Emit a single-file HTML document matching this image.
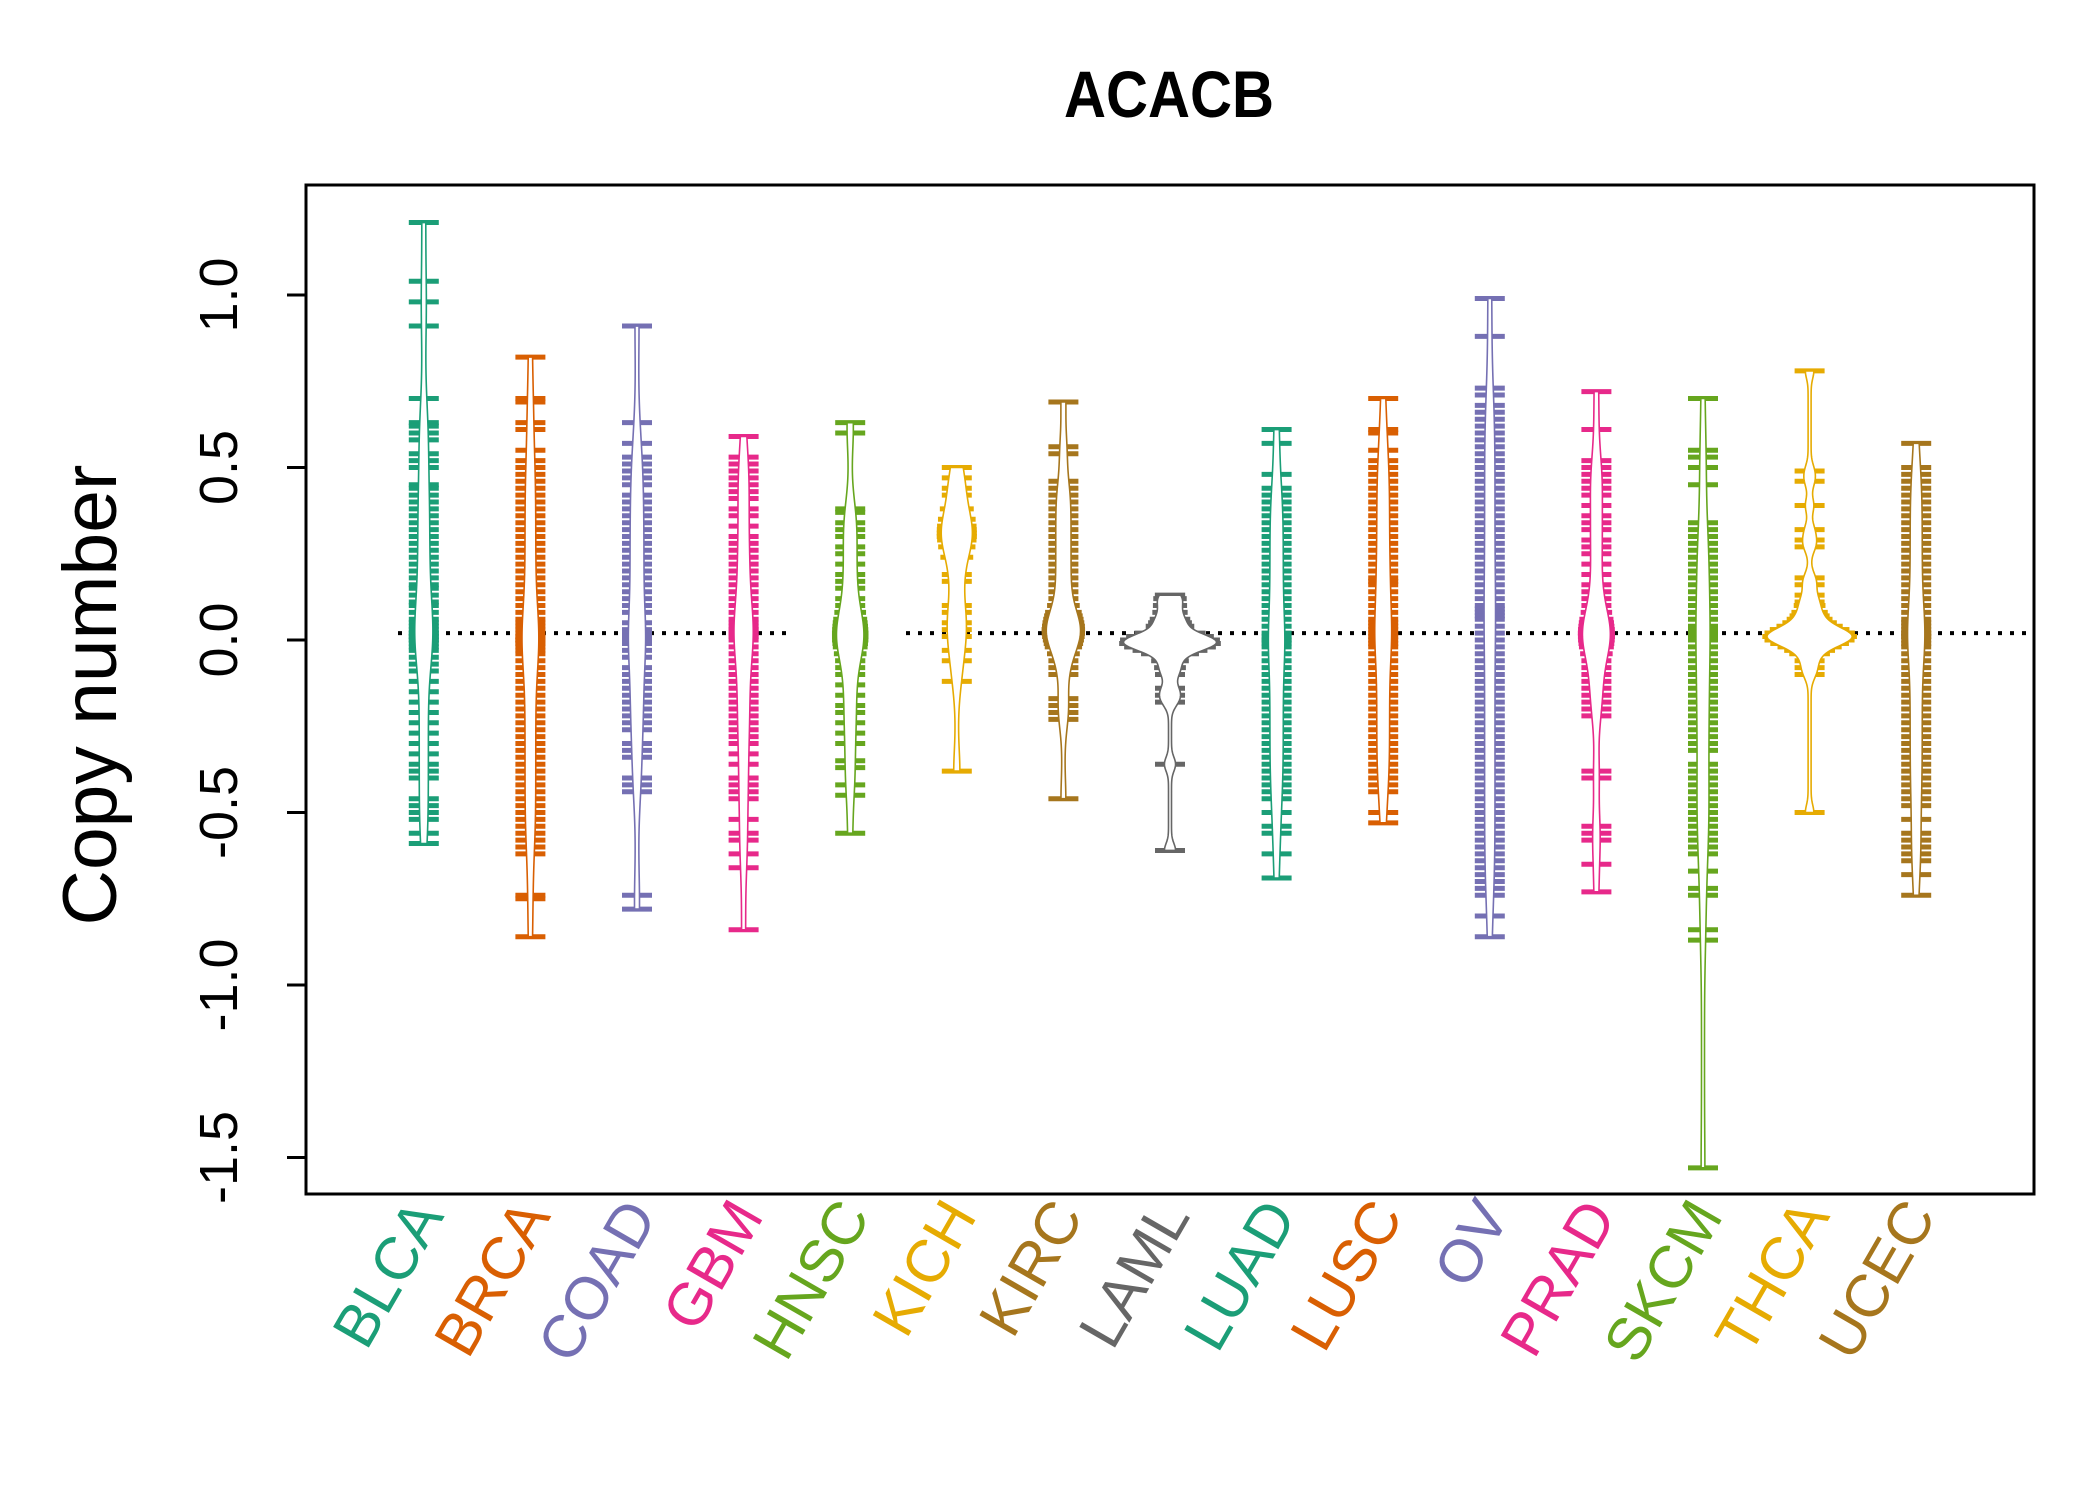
<!DOCTYPE html>
<html><head><meta charset="utf-8"><style>
html,body{margin:0;padding:0;background:#fff;}
svg{display:block;}
text{font-family:"Liberation Sans",Arial,sans-serif;}
</style></head><body>
<svg id="chart" width="2100" height="1500" viewBox="0 0 2100 1500" xmlns="http://www.w3.org/2000/svg">
<rect x="0" y="0" width="2100" height="1500" fill="#fff"/>
<text x="1169" y="117" font-size="66" font-weight="bold" text-anchor="middle" textLength="210" lengthAdjust="spacingAndGlyphs">ACACB</text>
<text transform="translate(116,695) rotate(-90)" font-size="76" text-anchor="middle" textLength="461" lengthAdjust="spacingAndGlyphs">Copy number</text>
<g id="plot"></g>
<g id="axes"></g>
</svg>
<script>
const categories = ["BLCA","BRCA","COAD","GBM","HNSC","KICH","KIRC","LAML","LUAD","LUSC","OV","PRAD","SKCM","THCA","UCEC"];
const colors = ["#1B9E77","#D95F02","#7570B3","#E7298A","#66A61E","#E6AB02","#A6761D","#666666","#1B9E77","#D95F02","#7570B3","#E7298A","#66A61E","#E6AB02","#A6761D"];
const yTicks = [1.0,0.5,0.0,-0.5,-1.0,-1.5];
const yTickLabels = ["1.0","0.5","0.0","-0.5","-1.0","-1.5"];
const refLineValue = 0.02;
const valsBLCA = [1.21,1.04,0.98,0.91,0.70,0.63,0.62,0.60,0.58,0.54,0.52,0.50,0.45,0.44,0.42,0.40,0.38,0.36,0.34,0.32,0.30,0.28,0.26,0.24,0.22,0.20,0.18,0.16,0.15,0.13,0.11,0.10,0.08,0.06,0.05,0.04,0.03,0.02,0.02,0.01,0.01,0.0,0.0,-0.01,-0.02,-0.03,-0.05,-0.07,-0.09,-0.12,-0.15,-0.18,-0.21,-0.24,-0.27,-0.30,-0.33,-0.36,-0.38,-0.40,-0.46,-0.48,-0.50,-0.52,-0.56,-0.59];
const valsBRCA = [0.82,0.70,0.69,0.63,0.61,0.55,0.52,0.50,0.48,0.46,0.44,0.42,0.40,0.38,0.36,0.34,0.32,0.30,0.28,0.26,0.24,0.22,0.20,0.18,0.16,0.14,0.12,0.10,0.08,0.06,0.05,0.04,0.03,0.02,0.01,0.01,0.0,0.0,0.0,-0.01,-0.01,-0.02,-0.03,-0.04,-0.06,-0.08,-0.10,-0.12,-0.14,-0.16,-0.18,-0.20,-0.22,-0.24,-0.26,-0.28,-0.30,-0.32,-0.34,-0.36,-0.38,-0.40,-0.42,-0.44,-0.46,-0.48,-0.50,-0.52,-0.54,-0.56,-0.58,-0.60,-0.62,-0.74,-0.75,-0.86];
const valsCOAD = [0.91,0.63,0.57,0.53,0.51,0.49,0.47,0.45,0.42,0.40,0.38,0.36,0.34,0.32,0.30,0.28,0.26,0.24,0.22,0.20,0.18,0.16,0.14,0.12,0.10,0.08,0.05,0.03,0.02,0.01,0.01,0.0,0.0,-0.01,-0.03,-0.05,-0.08,-0.10,-0.12,-0.14,-0.16,-0.18,-0.20,-0.22,-0.24,-0.26,-0.30,-0.32,-0.34,-0.40,-0.42,-0.44,-0.74,-0.78];
const valsGBM = [0.59,0.53,0.51,0.49,0.47,0.45,0.43,0.41,0.38,0.36,0.33,0.30,0.28,0.26,0.24,0.22,0.20,0.18,0.16,0.14,0.12,0.10,0.08,0.06,0.05,0.04,0.03,0.03,0.02,0.02,0.02,0.01,0.01,0.0,-0.02,-0.04,-0.06,-0.08,-0.10,-0.12,-0.14,-0.16,-0.18,-0.20,-0.22,-0.24,-0.26,-0.28,-0.30,-0.33,-0.36,-0.40,-0.42,-0.44,-0.46,-0.52,-0.56,-0.58,-0.62,-0.66,-0.84];
const valsHNSC = [0.63,0.60,0.38,0.37,0.34,0.32,0.30,0.27,0.25,0.22,0.19,0.17,0.15,0.12,0.10,0.08,0.06,0.05,0.04,0.03,0.02,0.02,0.01,0.01,0.0,0.0,-0.01,-0.02,-0.04,-0.06,-0.08,-0.10,-0.13,-0.16,-0.19,-0.21,-0.24,-0.27,-0.30,-0.35,-0.37,-0.42,-0.45,-0.56];
const valsKICH = [0.50,0.47,0.44,0.42,0.38,0.35,0.33,0.32,0.31,0.30,0.30,0.29,0.27,0.24,0.19,0.17,0.10,0.08,0.05,0.03,0.01,-0.03,-0.06,-0.12,-0.38];
const valsKIRC = [0.69,0.56,0.54,0.46,0.44,0.42,0.40,0.38,0.36,0.34,0.32,0.30,0.28,0.26,0.24,0.22,0.20,0.18,0.16,0.14,0.12,0.10,0.08,0.07,0.06,0.05,0.04,0.04,0.03,0.03,0.03,0.02,0.02,0.02,0.01,0.01,0.0,-0.01,-0.02,-0.04,-0.06,-0.08,-0.10,-0.17,-0.19,-0.21,-0.23,-0.46];
const valsLAML = [0.13,0.12,0.10,0.08,0.06,0.05,0.04,0.02,0.01,0.01,0.0,0.0,0.0,-0.01,-0.01,-0.01,-0.01,-0.02,-0.02,-0.03,-0.04,-0.06,-0.08,-0.10,-0.14,-0.16,-0.18,-0.36,-0.61];
const valsLUAD = [0.61,0.57,0.48,0.44,0.42,0.40,0.38,0.36,0.34,0.32,0.30,0.28,0.26,0.24,0.22,0.20,0.18,0.16,0.14,0.12,0.10,0.08,0.06,0.04,0.02,0.01,0.0,0.0,-0.01,-0.02,-0.04,-0.06,-0.08,-0.10,-0.12,-0.14,-0.16,-0.18,-0.20,-0.22,-0.24,-0.26,-0.28,-0.30,-0.32,-0.34,-0.36,-0.38,-0.40,-0.42,-0.44,-0.46,-0.50,-0.54,-0.56,-0.62,-0.69];
const valsLUSC = [0.70,0.61,0.60,0.55,0.52,0.50,0.48,0.46,0.44,0.42,0.40,0.38,0.36,0.34,0.32,0.30,0.28,0.26,0.24,0.22,0.20,0.18,0.17,0.16,0.14,0.12,0.10,0.08,0.06,0.05,0.04,0.03,0.02,0.01,0.0,-0.01,-0.02,-0.04,-0.06,-0.08,-0.10,-0.12,-0.14,-0.16,-0.18,-0.20,-0.22,-0.24,-0.26,-0.28,-0.30,-0.32,-0.34,-0.36,-0.38,-0.40,-0.42,-0.44,-0.50,-0.53];
const valsOV = [0.99,0.88,0.73,0.71,0.68,0.66,0.64,0.62,0.60,0.58,0.56,0.54,0.52,0.50,0.48,0.46,0.44,0.42,0.40,0.38,0.36,0.34,0.32,0.30,0.28,0.26,0.24,0.22,0.20,0.18,0.16,0.14,0.12,0.10,0.09,0.08,0.07,0.06,0.04,0.02,0.0,-0.02,-0.04,-0.06,-0.08,-0.10,-0.12,-0.14,-0.16,-0.18,-0.20,-0.22,-0.24,-0.26,-0.28,-0.30,-0.32,-0.34,-0.36,-0.38,-0.40,-0.42,-0.44,-0.46,-0.48,-0.50,-0.52,-0.54,-0.56,-0.58,-0.60,-0.62,-0.64,-0.66,-0.68,-0.70,-0.72,-0.74,-0.80,-0.86];
const valsPRAD = [0.72,0.61,0.52,0.50,0.48,0.46,0.44,0.42,0.39,0.36,0.34,0.32,0.29,0.27,0.25,0.22,0.19,0.16,0.14,0.12,0.10,0.08,0.06,0.05,0.04,0.03,0.03,0.02,0.02,0.02,0.02,0.01,0.01,0.01,0.0,0.0,-0.01,-0.02,-0.04,-0.06,-0.08,-0.10,-0.12,-0.14,-0.16,-0.18,-0.20,-0.22,-0.38,-0.40,-0.54,-0.56,-0.58,-0.65,-0.73];
const valsSKCM = [0.70,0.55,0.53,0.50,0.45,0.34,0.32,0.30,0.28,0.26,0.24,0.22,0.20,0.18,0.16,0.14,0.12,0.10,0.08,0.06,0.04,0.03,0.02,0.01,0.0,-0.02,-0.04,-0.06,-0.08,-0.10,-0.12,-0.14,-0.16,-0.18,-0.20,-0.22,-0.24,-0.26,-0.28,-0.30,-0.32,-0.36,-0.38,-0.40,-0.42,-0.44,-0.46,-0.48,-0.50,-0.52,-0.54,-0.56,-0.58,-0.60,-0.62,-0.67,-0.72,-0.74,-0.84,-0.87,-1.53];
const valsTHCA = [0.78,0.49,0.46,0.39,0.32,0.29,0.27,0.18,0.16,0.13,0.11,0.10,0.08,0.07,0.06,0.05,0.04,0.03,0.03,0.02,0.02,0.02,0.02,0.01,0.01,0.01,0.01,0.0,0.0,0.0,0.0,-0.01,-0.01,-0.02,-0.03,-0.04,-0.06,-0.08,-0.10,-0.50];
const valsUCEC = [0.57,0.50,0.48,0.46,0.44,0.42,0.40,0.38,0.36,0.34,0.32,0.30,0.28,0.26,0.24,0.22,0.20,0.18,0.16,0.14,0.12,0.10,0.08,0.06,0.05,0.04,0.03,0.02,0.02,0.01,0.01,0.0,-0.01,-0.02,-0.04,-0.06,-0.08,-0.10,-0.12,-0.14,-0.16,-0.18,-0.20,-0.22,-0.24,-0.26,-0.28,-0.30,-0.32,-0.34,-0.36,-0.38,-0.40,-0.42,-0.44,-0.46,-0.48,-0.52,-0.56,-0.58,-0.60,-0.62,-0.64,-0.68,-0.74];
const seriesValues = [valsBLCA,valsBRCA,valsCOAD,valsGBM,valsHNSC,valsKICH,valsKIRC,valsLAML,valsLUAD,valsLUSC,valsOV,valsPRAD,valsSKCM,valsTHCA,valsUCEC];

const NS = "http://www.w3.org/2000/svg";
const box = {left:306, right:2034, top:185, bottom:1194};
function yScale(v){ return 640 - 345*v; }
function xScale(i){ return 423.8 + 106.6*i; }
const plot = document.getElementById('plot');
const axes = document.getElementById('axes');
function mk(tag, attrs, parent){ const e=document.createElementNS(NS,tag); for(const k in attrs) e.setAttribute(k,attrs[k]); parent.appendChild(e); return e; }

function kde(vals, bw, y){ let s=0; for(const v of vals){ const z=(y-v)/bw; s+=Math.exp(-0.5*z*z);} return s/(vals.length*bw*Math.sqrt(2*Math.PI)); }
function bandwidth(vals){ const n=vals.length; const m=vals.reduce((a,b)=>a+b,0)/n; const sd=Math.sqrt(vals.reduce((a,b)=>a+(b-m)*(b-m),0)/(n-1)); const s=[...vals].sort((a,b)=>a-b); const iqr=s[Math.floor(0.75*(n-1))]-s[Math.floor(0.25*(n-1))]; const sp=Math.min(sd, iqr/1.34 || sd); return Math.max(0.55*sp*Math.pow(n,-0.2),0.02); }

const dens = seriesValues.map(vals=>{ const bw=bandwidth(vals); const mn=Math.min(...vals), mx=Math.max(...vals); const pts=[]; for(let k=0;k<=300;k++){ const y=mn+(mx-mn)*k/300; pts.push([y,kde(vals,bw,y)]);} return {bw,pts,mn,mx}; });
let maxD = 0; dens.forEach(d=>d.pts.forEach(p=>{ if(p[1]>maxD) maxD=p[1]; }));
const beanScale = 45/maxD;

const refA = mk('line',{x1:398,x2:793,y1:yScale(refLineValue),y2:yScale(refLineValue),stroke:'#000','stroke-width':4,'stroke-dasharray':'4,8'},plot);


const refB = mk('line',{x1:906,x2:box.right,y1:yScale(refLineValue),y2:yScale(refLineValue),stroke:'#000','stroke-width':4,'stroke-dasharray':'4,8'},plot);



seriesValues.forEach((vals,i)=>{
  const cx=xScale(i), col=colors[i], d=dens[i];
  const g=mk('g',{},plot);
  
  
  vals.forEach(v=>{
    const w=Math.max(15, kde(vals,d.bw,v)*beanScale+6);
    const ln=mk('line',{x1:cx-w,x2:cx+w,y1:yScale(v),y2:yScale(v),stroke:col,'stroke-width':5},g);
    
    
  });
  let right=d.pts.map(p=>(cx+p[1]*beanScale+1.5)+','+yScale(p[0]));
  let left=d.pts.slice().reverse().map(p=>(cx-p[1]*beanScale-1.5)+','+yScale(p[0]));
  const poly=mk('polygon',{points:right.concat(left).join(' '),fill:'#fff',stroke:col,'stroke-width':1.6},g);
  
  
  const lab=mk('text',{transform:`translate(${cx+21},1216) rotate(-60)`,'font-size':60,'text-anchor':'end',fill:col},axes);
  lab.textContent=categories[i];
  
  
});

const frame=mk('rect',{x:box.left,y:box.top,width:box.right-box.left,height:box.bottom-box.top,fill:'none',stroke:'#000','stroke-width':3},axes);


yTicks.forEach((t,k)=>{
  const y=yScale(t);
  const tk=mk('line',{x1:box.left-19,x2:box.left,y1:y,y2:y,stroke:'#000','stroke-width':3},axes);
  
  
  const tl=mk('text',{transform:`translate(237,${y}) rotate(-90)`,'font-size':54,'text-anchor':'middle'},axes);
  tl.textContent=yTickLabels[k];
  
  
});
</script>
</body></html>
